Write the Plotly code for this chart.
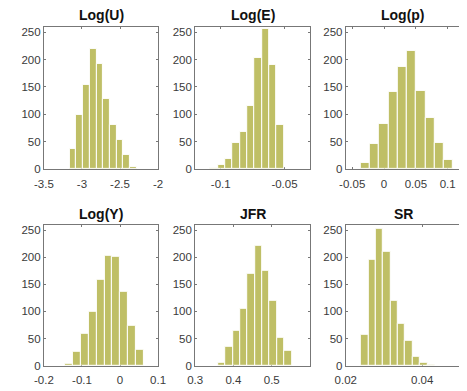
import numpy as np
import plotly.graph_objects as go

# Histogram counts (10 equal-width bins per variable) and the outer bin edges
titles = ["Log(U)", "Log(E)", "Log(p)", "Log(Y)", "JFR", "SR"]

u_counts = [37, 98, 154, 219, 193, 128, 81, 53, 25, 3]
u_edges = (-3.163, -2.281)

e_counts = [1, 7, 19, 48, 67, 116, 203, 257, 190, 80]
e_edges = (-0.1079, -0.0506)

p_counts = [11, 46, 82, 141, 186, 216, 142, 94, 48, 17]
p_edges = (-0.037, 0.1087)

y_counts = [3, 25, 59, 99, 158, 202, 201, 136, 74, 30]
y_edges = (-0.1436, 0.0622)

jfr_counts = [5, 35, 65, 105, 169, 221, 175, 120, 51, 28]
jfr_edges = (0.3594, 0.5524)

sr_counts = [56, 195, 252, 210, 120, 77, 45, 16, 6, 2]
sr_edges = (0.0240, 0.04327)

x_ranges = [(-3.5, -2.0), (-0.12, -0.03), (-0.06, 0.1177),
            (-0.2, 0.1), (0.3, 0.6), (0.02, 0.04963)]
x_ticks = [
    ([-3.5, -3, -2.5, -2], ["-3.5", "-3", "-2.5", "-2"]),
    ([-0.1, -0.05], ["-0.1", "-0.05"]),
    ([-0.05, 0, 0.05, 0.1], ["-0.05", "0", "0.05", "0.1"]),
    ([-0.2, -0.1, 0, 0.1], ["-0.2", "-0.1", "0", "0.1"]),
    ([0.3, 0.4, 0.5], ["0.3", "0.4", "0.5"]),
    ([0.02, 0.04], ["0.02", "0.04"]),
]
y_tickvals = [0, 50, 100, 150, 200, 250]
y_range = (0, 260)

series = [(u_counts, u_edges), (e_counts, e_edges), (p_counts, p_edges),
          (y_counts, y_edges), (jfr_counts, jfr_edges), (sr_counts, sr_edges)]

W, H = 467, 391
col_px = [(34.3, 153.3), (192.0, 311.7), (349.0, 467.0)]
row_px = [(27.3, 171.5), (228.3, 371.3)]
title_y_px = [15.0, 217.5]

BAR = "#bfbf66"
AXC = "#777777"
TXT = "#3a3a3a"
FONT = "Liberation Sans, Arial, sans-serif"

fig = go.Figure()
layout = dict(
    width=W, height=H,
    margin=dict(l=0, r=0, t=0, b=0),
    paper_bgcolor="white", plot_bgcolor="white",
    showlegend=False, bargap=0,
    font=dict(family=FONT, size=11.5, color=TXT),
    annotations=[],
)

for i, (counts, (lo, hi)) in enumerate(series):
    r, c = divmod(i, 3)
    n = len(counts)
    edges = np.linspace(lo, hi, n + 1)
    centers = (edges[:-1] + edges[1:]) / 2
    width = (hi - lo) / n
    xa = "x" if i == 0 else f"x{i + 1}"
    ya = "y" if i == 0 else f"y{i + 1}"
    fig.add_trace(go.Bar(
        x=centers, y=counts, width=[width] * n,
        marker=dict(color=BAR, line=dict(color="white", width=1)),
        xaxis=xa, yaxis=ya, hoverinfo="x+y",
    ))
    x0, x1 = col_px[c]
    top, bot = row_px[r]
    xkey = "xaxis" if i == 0 else f"xaxis{i + 1}"
    ykey = "yaxis" if i == 0 else f"yaxis{i + 1}"
    tv, tt = x_ticks[i]
    layout[xkey] = dict(
        domain=[x0 / W, min(x1 / W, 1.0)], anchor=ya, range=list(x_ranges[i]),
        tickvals=tv, ticktext=tt, ticks="inside", ticklen=2, tickcolor=AXC,
        showline=True, linecolor=AXC, linewidth=1, mirror="ticks",
        showgrid=False, zeroline=False, layer="below traces",
        ticklabelstandoff=4,
        tickfont=dict(family=FONT, size=11.5, color=TXT),
    )
    layout[ykey] = dict(
        domain=[1 - bot / H, 1 - top / H], anchor=xa, range=list(y_range),
        tickvals=y_tickvals, ticks="inside", ticklen=2, tickcolor=AXC,
        showline=True, linecolor=AXC, linewidth=1,
        mirror=("ticks" if c < 2 else False),
        showgrid=False, zeroline=False,
        tickfont=dict(family=FONT, size=11.5, color=TXT),
    )
    layout["annotations"].append(dict(
        text=titles[i], xref="paper", yref="paper",
        x=(x0 + (x0 + 119.5)) / 2 / W, y=1 - title_y_px[r] / H,
        xanchor="center", yanchor="middle", showarrow=False,
        font=dict(family=FONT, size=14, color="#111111", weight="bold"),
    ))

fig.update_layout(**layout)
fig.write_html("out.html")
